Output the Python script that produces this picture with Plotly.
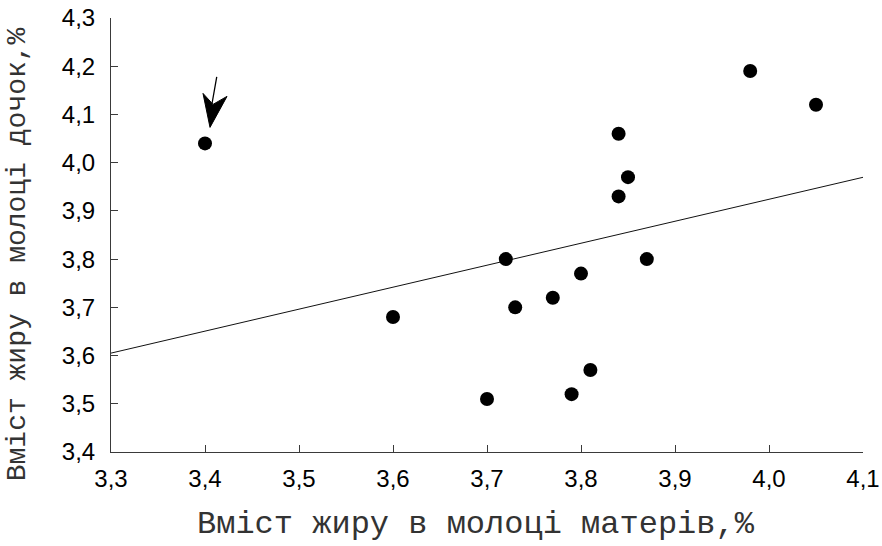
import numpy as np
import plotly.graph_objects as go

# Fat content in milk: mothers (x) vs daughters (y), %
mothers_fat = [3.40, 3.60, 3.70, 3.72, 3.73, 3.77, 3.79, 3.80, 3.81,
               3.84, 3.84, 3.85, 3.87, 3.98, 4.05]
daughters_fat = [4.04, 3.68, 3.51, 3.80, 3.70, 3.72, 3.52, 3.77, 3.57,
                 4.06, 3.93, 3.97, 3.80, 4.19, 4.12]

x_range = [3.3, 4.1]
y_range = [3.4, 4.3]
x_ticks = [3.3, 3.4, 3.5, 3.6, 3.7, 3.8, 3.9, 4.0, 4.1]
y_ticks = [3.4, 3.5, 3.6, 3.7, 3.8, 3.9, 4.0, 4.1, 4.2, 4.3]

x_title = "Вміст жиру в молоці матерів,%"
y_title = "Вміст жиру в молоці дочок,%"

# least-squares regression line across the axis range
slope, intercept = np.polyfit(mothers_fat, daughters_fat, 1)
line_x = np.array(x_range)
line_y = slope * line_x + intercept

fig = go.Figure()
fig.add_trace(go.Scatter(x=line_x, y=line_y, mode="lines",
                         line=dict(color="#111111", width=1),
                         hoverinfo="skip", showlegend=False))
fig.add_trace(go.Scatter(x=mothers_fat, y=daughters_fat, mode="markers",
                         marker=dict(color="black", size=14),
                         showlegend=False))

axis_common = dict(
    showline=True, linecolor="#3a3a3a", linewidth=1,
    ticks="inside", ticklen=7, tickcolor="#3a3a3a", tickwidth=1,
    showgrid=False, zeroline=False, tickformat=".1f", automargin=False,
    tickfont=dict(family="Liberation Sans, Arial, sans-serif", size=24, color="black"),
)
fig.update_xaxes(range=x_range, tickvals=x_ticks, ticklabelstandoff=5, **axis_common)
fig.update_yaxes(range=y_range, tickvals=y_ticks, ticklabelstandoff=10, **axis_common)

mono = "Liberation Mono, Courier New, monospace"
fig.add_annotation(text=x_title, xref="paper", yref="paper", x=0.485, y=-0.166,
                   xanchor="center", yanchor="middle", showarrow=False,
                   font=dict(family=mono, size=32, color="#333333"))
fig.add_annotation(text=y_title, xref="paper", yref="paper", x=-0.124, y=0.455,
                   xanchor="center", yanchor="middle", textangle=-90, showarrow=False,
                   font=dict(family=mono, size=28, color="#333333"))

# pointer to the outlying pair: shaft + notched head, in pixels around the point
px, py = mothers_fat[0], daughters_fat[0]
fig.add_annotation(x=px, y=py, ax=12, ay=-68, text="", showarrow=True,
                   arrowhead=0, arrowwidth=1.3, arrowcolor="black", standoff=40)
fig.add_shape(type="path", xref="x", yref="y", xsizemode="pixel", ysizemode="pixel",
              xanchor=px, yanchor=py,
              path="M -2,50 L 5,16 L 22,47 L 8,39 Z",
              fillcolor="black", line=dict(color="black", width=1))

fig.update_layout(
    width=882, height=546,
    margin=dict(l=111, r=19, t=18, b=94),
    paper_bgcolor="white", plot_bgcolor="white",
    separators=", ",
)

fig.write_html("out.html")
